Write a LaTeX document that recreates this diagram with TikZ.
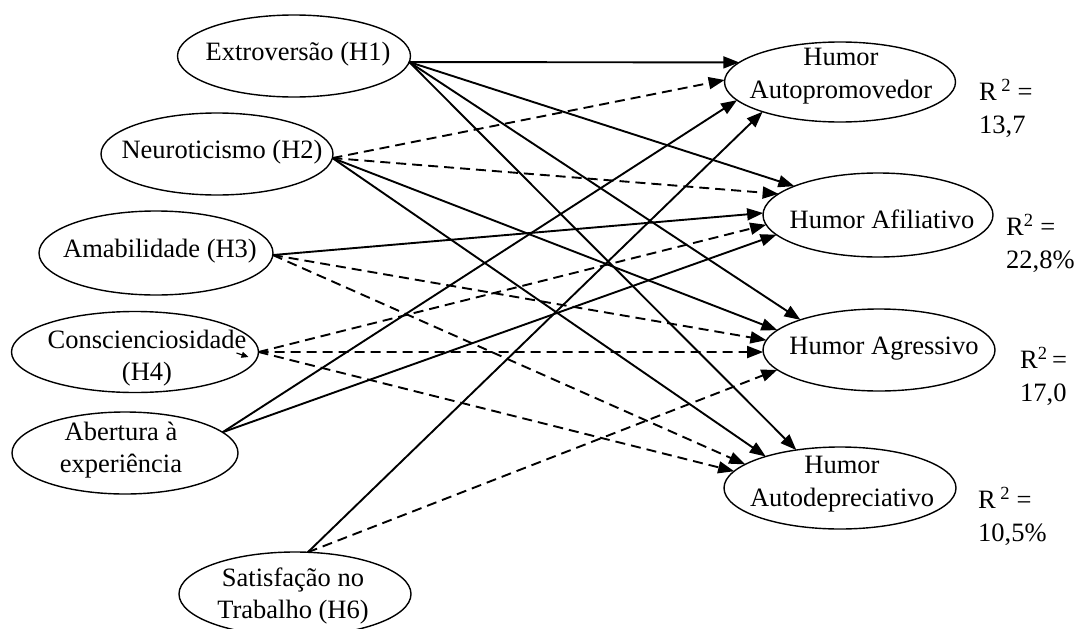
\documentclass[tikz,border=0pt]{standalone}
\usepackage{fontspec}
\setmainfont{Liberation Serif}
\usetikzlibrary{shapes.geometric,arrows.meta,calc}
\begin{document}
\begin{tikzpicture}[x=1pt,y=-1pt,
  ell/.style={draw,ellipse,line width=1.4pt,inner sep=0pt,outer sep=0pt},
  lbl/.style={inner sep=0pt,align=center,font=\fontsize{26.5}{32.5}\selectfont},
  rlbl/.style={inner sep=0pt,align=left,anchor=north west,font=\fontsize{26.5}{33}\selectfont},
  solidarr/.style={line width=1.9pt,-{Triangle[length=16pt,width=12pt]}},
  dasharr/.style={line width=1.9pt,dash pattern=on 10pt off 6pt,-{Triangle[length=16pt,width=12pt]}}]
\useasboundingbox (0,0) rectangle (1076,629);
% left ellipses
\node[ell,minimum width=233pt,minimum height=82pt] (h1) at (294,56) {};
\node[ell,minimum width=232pt,minimum height=82pt] (h2) at (217,154) {};
\node[ell,minimum width=234pt,minimum height=84pt] (h3) at (156,253) {};
\node[ell,minimum width=247pt,minimum height=81pt] (h4) at (135,352) {};
\node[ell,minimum width=226pt,minimum height=82pt] (ab) at (125,453) {};
\node[ell,minimum width=232pt,minimum height=84pt] (sat) at (295,594) {};
% right ellipses
\node[ell,minimum width=231pt,minimum height=80pt] (auto) at (840,82) {};
\node[ell,minimum width=230pt,minimum height=84pt] (afil) at (878,215) {};
\node[ell,minimum width=232pt,minimum height=82pt] (agr) at (879,350) {};
\node[ell,minimum width=232pt,minimum height=82pt] (adep) at (840,488) {};
% texts
\node[lbl] (t1) at (298,54) {Extroversão (H1)};
\node[lbl] (t2) at (222,152) {Neuroticismo (H2)};
\node[lbl] (t3) at (160,251) {Amabilidade (H3)};
\node[lbl] (t4) at (147,358) {Conscienciosidade\\(H4)};
\node[lbl] (tab) at (121,450) {Abertura à\\experiência};
\node[lbl] (tsat) at (293,596) {Satisfação no\\Trabalho (H6)};
\node[lbl] (tauto) at (841,76) {Humor\\Autopromovedor};
\node[lbl] (tafil) at (882,219) {Humor Afiliativo};
\node[lbl] (tagr) at (884,349) {Humor Agressivo};
\node[lbl] (tadep) at (842,484) {Humor\\Autodepreciativo};
% R2 labels
\node[rlbl] (r1) at (979,79) {R\,\textsuperscript{2} =\\13,7};
\node[rlbl] (r2) at (1006,214) {R\textsuperscript{2} =\\22,8\%};
\node[rlbl] (r3) at (1020,347) {R\textsuperscript{2}\,=\\17,0};
\node[rlbl] (r4) at (978,487) {R\,\textsuperscript{2} =\\10,5\%};
% solid connectors
\draw[solidarr] (h1.-3) -- (auto.169);
\draw[solidarr] (h1.-3) -- (afil.161);
\draw[solidarr] (h1.-3) -- (agr.159);
\draw[solidarr] (h1.-3) -- (adep.139);
\draw[solidarr] (h2.-2) -- (agr.169);
\draw[solidarr] (h2.-2) -- (adep.157);
\draw[solidarr] (h3.-1) -- (afil.179);
\draw[solidarr] (ab.12) -- (auto.190);
\draw[solidarr] (ab.12) -- (afil.191);
\draw[solidarr] (sat.73) -- (auto.201);
% dashed connectors
\draw[dasharr] (h2.-2) -- (auto.179);
\draw[dasharr] (h2.-2) -- (afil.168);
\draw[dasharr] (h3.-1) -- (agr.175);
\draw[dasharr] (h3.-1) -- (adep.166);
\draw[dasharr] (h4.east) -- (afil.185);
\draw[dasharr] (h4.east) -- (agr.181);
\draw[dasharr] (h4.east) -- (adep.171);
\draw[dasharr] (sat.73) -- (agr.191);
% small stray arrow tip at Conscienciosidade
\coordinate (s1) at ($(h4.east)+(-22,1)$);
\coordinate (s2) at ($(h4.east)+(-10,5)$);
\draw[line width=1.2pt,-{Triangle[length=7pt,width=6pt]}] (s1) -- (s2);
\end{tikzpicture}
\end{document}
